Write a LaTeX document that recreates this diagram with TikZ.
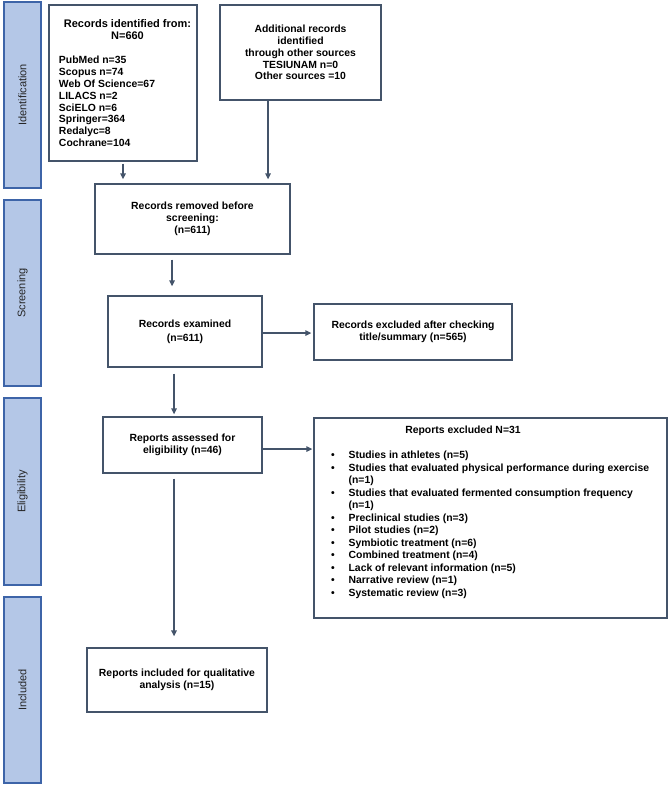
\documentclass[tikz,border=0pt]{standalone}
\usepackage{fontspec}
\setmainfont{Liberation Sans}
\usetikzlibrary{arrows.meta,calc}
\definecolor{boxc}{HTML}{44546A}
\definecolor{barfill}{HTML}{B4C7E7}
\definecolor{bardraw}{HTML}{3D64A8}
\begin{document}
\begin{tikzpicture}[x=1bp,y=-1bp,
  box/.style={draw=boxc,line width=1.3bp,fill=white,inner sep=0pt,
    font=\bfseries\fontsize{10.4bp}{11.8bp}\selectfont},
  cbox/.style={box,align=center},
  bar/.style={draw=bardraw,line width=1.5bp,fill=barfill,rotate=90,inner sep=0pt,
    minimum height=37bp,font=\fontsize{11bp}{13bp}\selectfont,text=black!85},
  arr/.style={draw=boxc,line width=1.3bp,-{Triangle[length=6bp,width=5.5bp]}}]
\useasboundingbox (0,0) rectangle (669,787);

% phase bars
\node[bar,minimum width=186bp] (pid) at (22.5,95) {Identification};
\node[bar,minimum width=186bp] (pscr) at (22.5,293) {Screening};
\node[bar,minimum width=187bp] (pelig) at (22.5,491.5) {Eligibility};
\node[bar,minimum width=186bp] (pincl) at (22.5,690) {Included};

% boxes
\node[box,minimum width=148bp,minimum height=156bp] (box1) at (123,83)
 {\hspace*{9bp}\begin{minipage}{137bp}\centering{\fontsize{11bp}{11.8bp}\selectfont Records identified from:\\N=660\par}
 \vspace{13bp}\raggedright
 PubMed n=35\\Scopus n=74\\Web Of Science=67\\LILACS n=2\\SciELO n=6\\Springer=364\\Redalyc=8\\Cochrane=104\end{minipage}};

\node[cbox,minimum width=161bp,minimum height=95bp] (box2) at (300.5,52.5)
 {Additional records\\identified\\through other sources\\TESIUNAM n=0\\Other sources =10};

\node[cbox,minimum width=195bp,minimum height=70bp] (box3) at (192.5,219)
 {Records removed before\\screening:\\(n=611)};

\node[cbox,minimum width=154bp,minimum height=71bp] (exam) at (185,331.5)
 {Records examined\\[2bp](n=611)};

\node[cbox,minimum width=198bp,minimum height=56bp] (excl1) at (413,332)
 {Records excluded after checking\\title/summary (n=565)};

\node[cbox,minimum width=159bp,minimum height=56bp] (ass) at (182.5,445)
 {Reports assessed for\\eligibility (n=46)};

\node[box,minimum width=353bp,minimum height=200bp] (excl2) at (490.5,518)
 {\fontsize{10.4bp}{12.5bp}\selectfont\begin{minipage}{353bp}
 \makebox[298bp]{Reports excluded N=31}\par
 \vspace{12.5bp}
 \hspace*{17bp}\begin{tabular}[t]{@{}l@{\hspace{14bp}}l@{}}
 \textbullet & Studies in athletes (n=5)\\
 \textbullet & Studies that evaluated physical performance during exercise\\
  & (n=1)\\
 \textbullet & Studies that evaluated fermented consumption frequency\\
  & (n=1)\\
 \textbullet & Preclinical studies (n=3)\\
 \textbullet & Pilot studies (n=2)\\
 \textbullet & Symbiotic treatment (n=6)\\
 \textbullet & Combined treatment (n=4)\\
 \textbullet & Lack of relevant information (n=5)\\
 \textbullet & Narrative review (n=1)\\
 \textbullet & Systematic review (n=3)
 \end{tabular}
 \vspace*{10bp}
 \end{minipage}};

\node[cbox,minimum width=180bp,minimum height=64bp] (incl) at (177,680)
 {Reports included for qualitative\\analysis (n=15)};

% connectors
\draw[arr,shorten <=2bp,shorten >=4bp] (box1.south) -- (box1.south |- box3.north);
\coordinate (b2out) at ($(box2.south)+(-32.5,0)$);
\draw[arr,shorten >=4bp] (b2out) -- (b2out |- box3.north);
\coordinate (b3out) at ($(box3.south)+(-20.5,0)$);
\draw[arr,shorten <=5bp,shorten >=9bp] (b3out) -- (b3out |- exam.north);
\coordinate (exout) at ($(exam.east)+(0,1.5)$);
\draw[arr,shorten >=2bp] (exout) -- (exout -| excl1.west);
\coordinate (exdown) at ($(exam.south)+(-11,0)$);
\draw[arr,shorten <=6bp,shorten >=2bp] (exdown) -- (exdown |- ass.north);
\coordinate (asout) at ($(ass.east)+(0,4)$);
\draw[arr,shorten >=1bp] (asout) -- (asout -| excl2.west);
\coordinate (asdown) at ($(ass.south)+(-8.5,0)$);
\draw[arr,shorten <=5bp,shorten >=11bp] (asdown) -- (asdown |- incl.north);
\end{tikzpicture}
\end{document}
